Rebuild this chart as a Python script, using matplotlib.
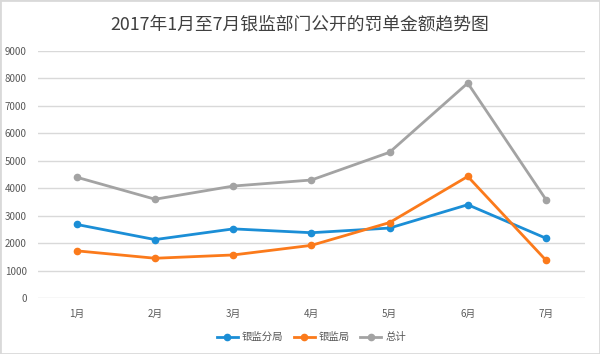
import matplotlib.pyplot as plt
from matplotlib.patches import Rectangle

plt.rcParams['font.family'] = ['Noto Sans CJK SC', 'DejaVu Sans']

months = ['1月', '2月', '3月', '4月', '5月', '6月', '7月']
fenju = [2680, 2130, 2520, 2380, 2550, 3400, 2180]
yinjianju = [1720, 1450, 1570, 1920, 2750, 4430, 1380]
total = [4400, 3600, 4080, 4300, 5310, 7830, 3590]

fig = plt.figure(figsize=(6, 3.54), dpi=100)
ax = fig.add_axes([0.063, 0.158, 0.912, 0.698])

x = range(len(months))
ax.plot(x, fenju, color='#1b8ed6', lw=2.0, marker='o', ms=4.5, label='银监分局')
ax.plot(x, yinjianju, color='#fb7a1b', lw=2.0, marker='o', ms=4.5, label='银监局')
ax.plot(x, total, color='#a3a3a3', lw=2.0, marker='o', ms=4.5, label='总计')

ax.set_xlim(-0.5, 6.5)
ax.set_ylim(0, 9000)
ax.set_yticks(range(0, 9001, 1000))
ax.set_xticks(list(x))
ax.set_xticklabels(months)
ax.grid(axis='y', color='#d9d9d9', lw=1)
ax.set_axisbelow(True)
for s in ax.spines.values():
    s.set_visible(False)
ax.tick_params(length=0, colors='#595959', labelsize=7, pad=8)

fig.suptitle('2017年1月至7月银监部门公开的罚单金额趋势图', y=0.955, fontsize=12.8, color='#404040')
ax.legend(loc='upper center', bbox_to_anchor=(0.5, -0.1), ncol=3, frameon=False,
          fontsize=7.5, labelcolor='#595959', handlelength=2.0, handletextpad=0.4,
          columnspacing=1.0)

fig.patches.append(Rectangle((0, 0), 1, 1, transform=fig.transFigure, fill=False,
                             edgecolor='#d9d9d9', lw=2))
fig.savefig('out.png', dpi=100)
